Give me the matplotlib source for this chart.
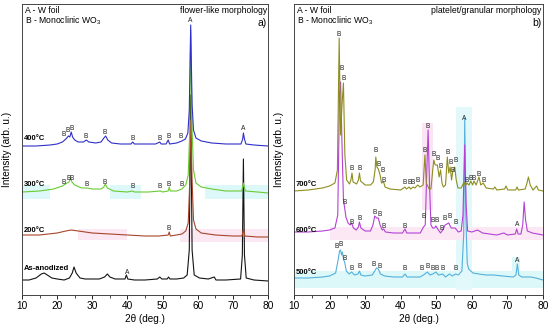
import matplotlib
matplotlib.use("Agg")
import matplotlib.pyplot as plt
from matplotlib.ticker import MultipleLocator

plt.rcParams['font.family'] = ['Liberation Sans', 'DejaVu Sans']
plt.rcParams['mathtext.fontset'] = 'custom'
plt.rcParams['mathtext.rm'] = 'Liberation Sans'
plt.rcParams['mathtext.default'] = 'regular'

# ---- panel a) flower-like morphology : (2theta, intensity) ----
a_400 = [(10,149),(14,149),(18,150),(20,151),(21.5,153),(22.5,156),(23.2,159),(23.6,158),(24.0,163),
         (24.4,158),(25,155),(26,153),(27.5,153),(28.3,155),(29,153),(31,152),(32.5,153),(33.3,157),
         (33.8,159),(34.4,155),(35.5,152),(38,151),(41,151),(41.5,153),(42,151),(45,151),(48,151),
         (49.2,153),(49.6,151),(51,151),(51.6,155),(52,151),(54,152),(55.5,154),(56.5,156),(57.2,162),
         (57.6,185),(58.0,270),(58.4,190),(58.8,165),(59.5,157),(61,154),(64,152),(68,151),(72.3,151),
         (72.8,156),(73.0,162),(73.3,156),(73.7,151),(76,150),(80,149)]
a_300 = [(10,103),(15,104),(19,106),(21.5,109),(22.8,112),(23.4,113),(23.8,117),(24.2,113),(25,110),
         (27,107),(28.5,107),(30,106),(32.5,106),(33.3,108),(33.7,111),(34.3,107),(36,104),(40,103),
         (41.4,104),(42,103),(46,103),(49.3,104),(50,103),(51.6,104),(51.9,108),(52.2,104),(54,104),
         (55.5,106),(56.6,110),(57.3,120),(57.7,160),(58.0,265),(58.4,165),(58.8,125),(59.5,112),
         (61,108),(64,106),(68,104),(72.5,104),(72.8,108),(73.0,112),(73.3,107),(73.6,104),(77,103),(80,102)]
a_200 = [(10,60),(15,60),(20,62),(22.5,64),(24,65),(26,64),(30,62),(35,61),(40,60),(45,59),(49,59),
         (51.6,60),(51.9,63),(52.2,59),(54,60),(55.5,61),(56.6,64),(57.3,72),(57.7,110),(58.0,175),
         (58.4,115),(58.8,75),(59.5,66),(61,62),(65,60),(70,59),(72.6,59),(73.0,66),(73.4,59),(77,58),(80,58)]
a_asan = [(10,15),(12,15),(14,17),(15.5,21),(16.3,22),(17.2,20),(18.5,17),(20,16),(22,15),(23.5,17),
          (24.3,22),(24.8,28),(25.4,22),(26.5,17),(28,16),(30,16),(32,16),(33.5,18),(34.3,21),(35,18),
          (36.5,16),(38,16),(39.3,16),(39.7,20),(40.1,16),(42,15),(45,15),(48.5,16),(49.2,18),(49.8,16),
          (51.3,16),(51.7,18),(52.1,16),(54,16),(56,17),(57,20),(57.6,45),(58.0,200),(58.4,45),(59,20),
          (60.5,17),(63,16),(64.7,18),(65.2,15),(68,15),(72.2,16),(72.7,40),(73.0,136),(73.3,40),
          (73.8,17),(76,15),(80,14)]

# ---- panel b) platelet/granular morphology ----
b_700 = [(10,104),(14,105),(18,107),(20,109),(21.5,112),(22.2,125),(22.7,257),(23.1,160),(23.5,190),
         (23.9,212),(24.3,140),(24.8,115),(25.6,111),(26.0,115),(26.3,122),(26.6,113),(27.6,111),
         (28.1,115),(28.4,122),(28.7,114),(30,110),(31.5,110),(32.3,113),(32.8,125),(33.0,138),
         (33.3,128),(33.7,126),(34.2,120),(34.6,112),(35.2,113),(35.6,108),(37,106),(40,105),(41.2,108),
         (41.6,106),(42.4,108),(42.8,106),(43.5,108),(44.0,107),(44.8,110),(45.4,108),(46.3,110),
         (46.8,140),(47.2,112),(48.0,106),(48.5,106),(49.0,125),(49.3,135),(49.7,130),(50.3,130),
         (50.8,118),(51.2,125),(51.6,112),(52.0,108),(52.6,110),(53.1,138),(53.5,122),(53.9,128),
         (54.3,115),(54.6,123),(55.2,128),(55.6,115),(56.1,107),(57.0,107),(57.8,113),(58.2,109),
         (58.6,112),(59.2,110),(59.7,114),(60.2,110),(60.6,114),(61.2,110),(62.0,118),(62.5,110),
         (63.2,112),(64,107),(66,106),(66.5,108),(67,105),(69.2,106),(69.6,109),(70.1,105),(72.3,105),
         (72.7,108),(73.1,105),(75.0,106),(75.5,112),(75.9,118),(76.4,110),(77.2,105),(78.2,109),
         (78.7,105),(80,104)]
b_600 = [(10,63),(14,63),(18,64),(20,65),(21.5,67),(22.3,80),(22.8,200),(23.1,213),(23.5,150),
         (23.9,95),(24.2,88),(24.6,78),(25.2,72),(25.8,70),(26.2,72),(26.7,67),(27.5,65),(28.1,68),
         (28.4,73),(28.8,67),(30,64),(31.5,64),(32.2,70),(32.7,79),(33.2,77),(33.7,77),(34.2,70),
         (34.8,65),(35.2,66),(35.7,63),(38,62),(40.5,62),(41.2,66),(41.7,62),(44,62),(45.5,62),
         (46.4,68),(46.9,70),(47.3,120),(47.7,165),(48.1,110),(48.5,70),(49.0,67),(49.5,67),(49.9,69),
         (50.4,66),(51.2,62),(51.8,65),(52.5,70),(53.0,71),(53.5,72),(54.2,67),(55.3,67),(56.2,63),
         (57.0,64),(57.5,80),(58.0,150),(58.4,90),(58.8,64),(60,63),(61.6,65),(63,62),(67,60),(69,62),
         (70,60),(72.2,61),(72.6,66),(73.0,61),(73.8,61),(74.3,70),(74.7,93),(75.1,75),(75.6,64),
         (77,62),(80,60)]
b_500 = [(10,17),(14,17),(18,18),(20,19),(21.7,22),(22.4,35),(22.8,44),(23.1,45),(23.35,40),
         (23.6,43),(23.9,36),(24.3,32),(24.7,24),(25.5,21),(26.2,23),(27,20),(28.0,21),(28.4,24),
         (28.8,20),(30,19),(32,20),(32.7,24),(33.2,27),(33.7,26),(34.3,21),(35.5,19),(38,18),
         (40.5,18),(41.2,21),(41.8,18),(44,18),(45.4,18),(46.4,20),(47.5,23),(48.2,20),(49.0,21),
         (49.9,23),(50.6,20),(51.8,21),(52.6,18),(53.7,21),(54.5,19),(55.4,21),(56.2,20),(57.2,24),
         (57.7,60),(58.0,177),(58.3,80),(58.7,32),(59.1,26),(60.3,22),(62,21),(64,20),(66,20),
         (68.7,19),(71.6,18),(72.4,20),(72.8,31),(73.2,20),(74,18),(76.5,18),(78,17),(80,15)]

# peak labels (2theta, height of label centre, letter)
labels_a = [(22.0,161,'B'),(23.1,164,'B'),(24.2,166,'B'),(28.2,159,'B'),(33.6,162,'B'),(41.5,156,'B'),
            (49.3,157,'B'),(51.8,158,'B'),(55.2,159,'B'),(57.9,275,'A'),(72.9,166,'A'),
            (22.0,113,'B'),(23.4,117,'B'),(24.2,117,'B'),(28.5,110,'B'),(33.6,112,'B'),(41.4,108,'B'),
            (49.3,108,'B'),(51.8,111,'B'),(55.3,111,'B'),
            (51.8,67,'B'),(39.8,23,'A')]
labels_b = [(22.65,261,'B'),(23.5,226,'B'),(24.06,217,'B'),(26.2,127,'B'),(28.4,127,'B'),(33.0,144,'B'),
            (33.7,130,'B'),(34.8,125,'B'),(35.1,114,'B'),(41.2,112,'B'),(42.4,112,'B'),(43.5,112,'B'),
            (44.8,114,'B'),(46.8,145,'B'),(47.6,169,'B'),(49.2,140,'B'),(50.3,136,'B'),(51.2,129,'B'),
            (53.1,143,'B'),(54.05,133,'B'),(55.5,134,'B'),(54.6,124,'B'),(57.9,176,'A'),
            (58.5,115,'B'),(59.7,116,'B'),(60.6,116,'B'),(62.0,120,'B'),(63.2,114,'B'),
            (24.3,92,'B'),(26.2,72,'B'),(28.4,76,'B'),(32.6,83,'B'),(34.0,80,'B'),(35.1,68,'B'),
            (41.2,68,'B'),(46.4,79,'B'),(49.0,74,'B'),(50.1,74,'B'),(51.5,67,'B'),(52.5,77,'B'),
            (53.9,78,'B'),(55.5,72,'B'),(72.6,70,'A'),
            (22.0,48,'B'),(23.1,50,'B'),(24.3,36,'B'),(26.2,26,'B'),(28.4,28,'B'),(32.3,30,'B'),
            (34.2,29,'B'),(41.2,26,'B'),(45.9,27,'B'),(47.5,28,'B'),(49.0,26,'B'),(50.1,26,'B'),
            (51.8,26,'B'),(55.4,27,'B'),(72.6,35,'A')]

# (curve, colour, sample name, height of name label)
series_a = [(a_asan, '#141414', 'As-anodized', 27), (a_200, '#a8462c', '200\u00b0C', 65),
            (a_300, '#6acb32', '300\u00b0C', 110), (a_400, '#2f2fc8', '400\u00b0C', 157)]
series_b = [(b_500, '#55b0dc', '500\u00b0C', 23), (b_600, '#b441d6', '600\u00b0C', 65),
            (b_700, '#8e8e1f', '700\u00b0C', 110)]

# faint highlight patches seen in the picture: (x0, x1, y0, y1, colour)
patches_a = [(10, 18, 96, 110, '#dcf8f8'), (35, 44, 96, 110, '#dcf8f8'), (62, 80, 96, 110, '#dcf8f8'),
             (26, 40, 55, 66, '#fbe8f2'), (55, 80, 53, 66, '#fbe8f2')]
patches_b = [(10, 80, 7, 24, '#dcf8f8'), (55.5, 60, 5, 188, '#e2f8fa'), (71.3, 73.6, 15, 38, '#dcf8f8'),
             (20, 80, 55, 68, '#fbe8f4'), (46, 49, 85, 172, '#fbe4f3')]

fig = plt.figure(figsize=(5.5, 3.31), dpi=100)
ax_a = fig.add_axes([22/550, 36/331, 246/550, 291/331])
ax_b = fig.add_axes([294/550, 36/331, 249/550, 291/331])


def draw(ax, series, patches, labels, top_right, tag):
    for x0, x1, y0, y1, c in patches:
        ax.fill_between([x0, x1], y0, y1, color=c, lw=0, zorder=0)
    for pts, col, name, ylab in series:
        xs = [p[0] for p in pts]
        ys = [p[1] for p in pts]
        ax.plot(xs, ys, color=col, lw=0.8, zorder=2)
        ax.text(10.6, ylab, name, fontsize=5.5, fontweight='bold', ha='left', va='center', zorder=4)
    for x, y, t in labels:
        ax.text(x, y, t, fontsize=4.8, ha='center', va='center', color='#222222', zorder=4)
    ax.text(0.012, 0.979, 'A - W foil', transform=ax.transAxes, fontsize=6.2, va='center', ha='left')
    ax.text(0.012, 0.941, 'B - Monoclinic WO$_3$', transform=ax.transAxes, fontsize=6.2,
            va='center', ha='left')
    ax.text(0.995, 0.979, top_right, transform=ax.transAxes, fontsize=6.2, va='center', ha='right')
    ax.text(0.995, 0.936, tag, transform=ax.transAxes, fontsize=7.5, va='center', ha='right')
    ax.set_xlim(10, 80)
    ax.set_ylim(0, 291)
    ax.xaxis.set_major_locator(MultipleLocator(10))
    ax.xaxis.set_minor_locator(MultipleLocator(5))
    ax.tick_params(axis='x', which='major', direction='out', length=3, width=0.6, labelsize=7.3, pad=1.5)
    ax.tick_params(axis='x', which='minor', direction='out', length=1.8, width=0.5)
    ax.set_yticks([])
    for s in ax.spines.values():
        s.set_linewidth(0.7)
        s.set_color('#444444')
    ax.set_xlabel('2\u03b8 (deg.)', fontsize=7.2, labelpad=2)
    ax.set_ylabel('Intensity (arb. u.)', fontsize=7.2, labelpad=7)


draw(ax_a, series_a, patches_a, labels_a, 'flower-like morphology', 'a)')
draw(ax_b, series_b, patches_b, labels_b, 'platelet/granular morphology', 'b)')

fig.savefig('out.png', dpi=100)
